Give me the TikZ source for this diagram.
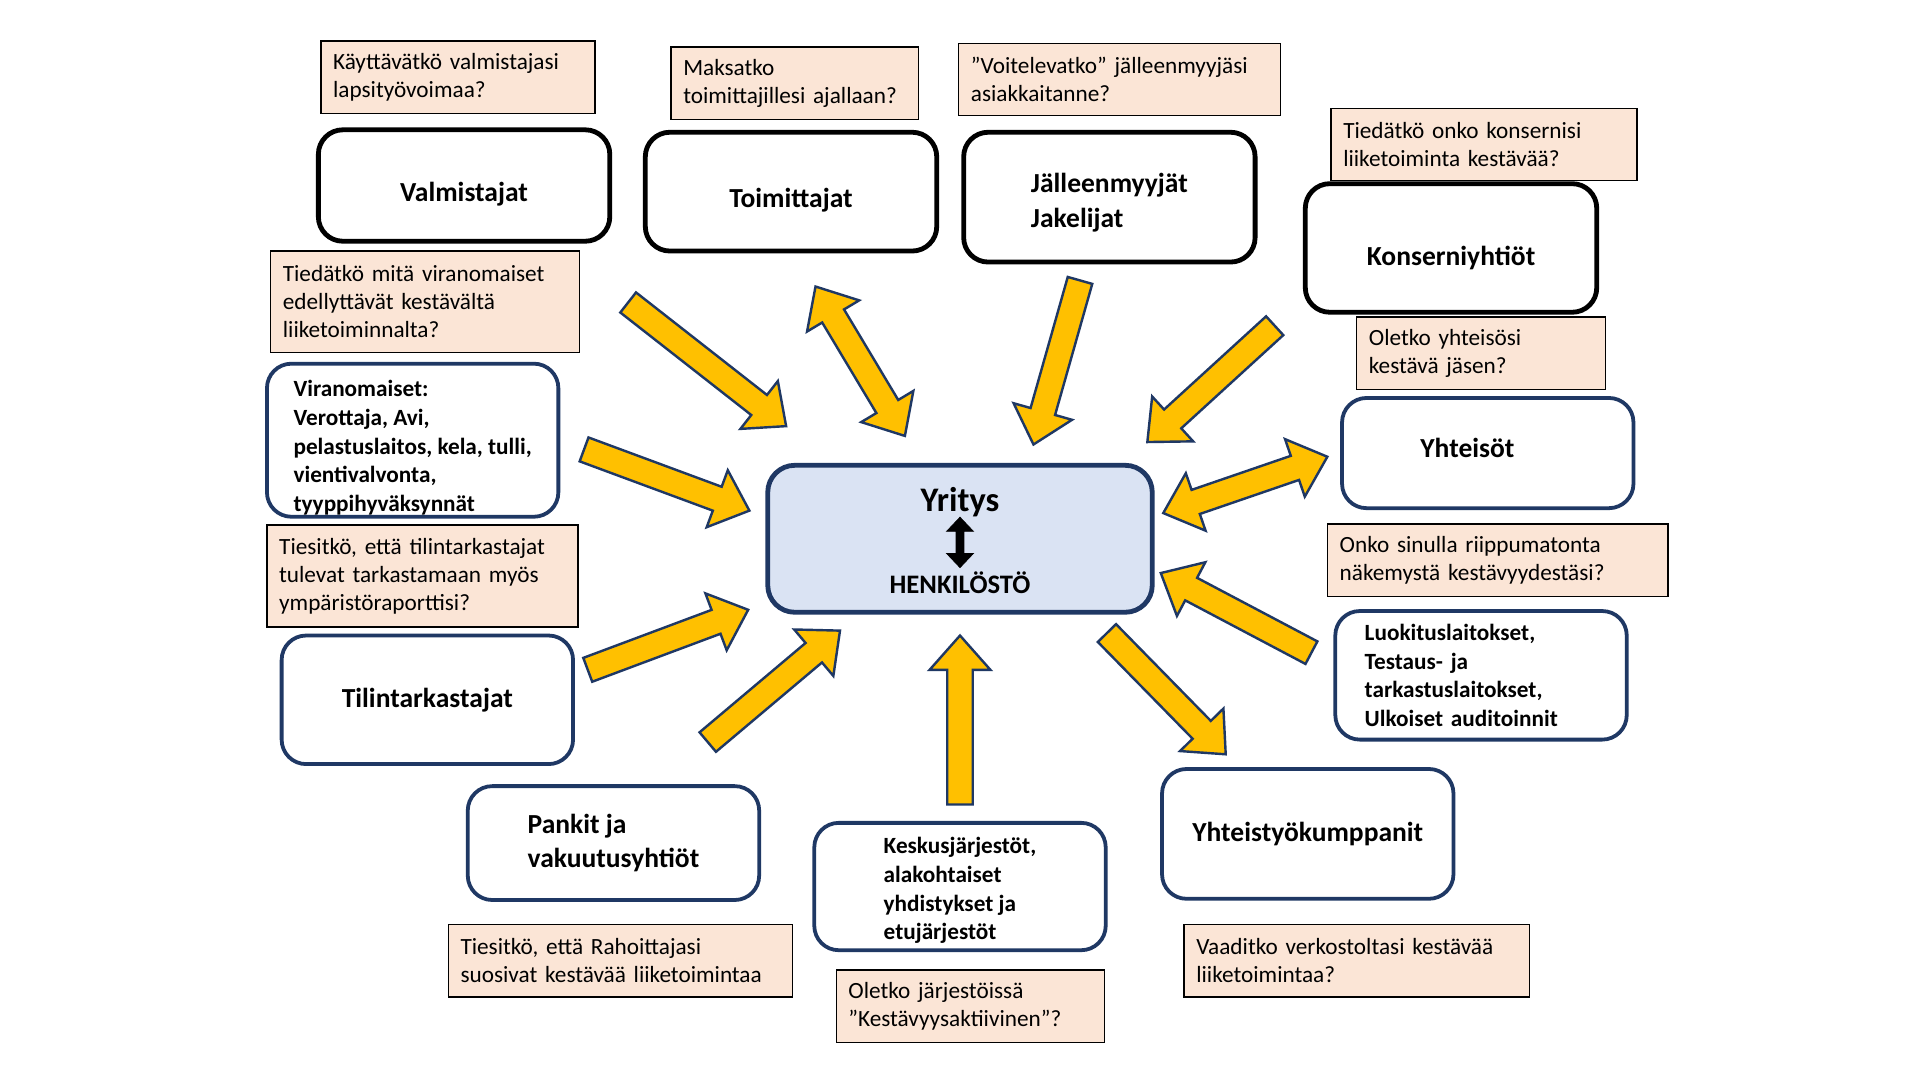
\documentclass[tikz,border=0pt]{standalone}
\usepackage{fontspec}
\setmainfont{Carlito}
\usepackage{tikz}
\usetikzlibrary{positioning}
\usetikzlibrary{calc}
\definecolor{navy}{HTML}{1F3864}
\definecolor{gold}{HTML}{FFC000}
\definecolor{peach}{HTML}{FBE5D6}
\definecolor{paleblue}{HTML}{DAE3F3}
\tikzset{x=0.25mm, y=-0.25mm, font=\fontsize{13.5}{16.3}\selectfont}
\tikzstyle{quest} = [draw, fill=peach, line width=0.8pt, rectangle, align=left, inner xsep=2.5mm, minimum height=14.75mm]
\tikzstyle{party} = [draw, fill=white, line width=2.8pt, rounded corners=5mm, minimum width=59.5mm, align=left, font=\fontsize{16}{20}\selectfont\bfseries]
\tikzstyle{group} = [party, draw=navy, line width=2.2pt]
\tikzstyle{smalltext} = [font=\fontsize{13.5}{16.7}\selectfont\bfseries]
\tikzstyle{barrow} = [draw=navy, fill=gold, line width=1.4pt, line join=miter]
\tikzstyle{karrow} = [draw=black, fill=black, line width=0.4pt, line join=miter]
\newcommand{\shw}{2.6mm}
\newcommand{\hdw}{6.2mm}
\newcommand{\hdl}{7mm}
% block arrow from #2 to #3
\newcommand{\onearrow}[3]{%
  \coordinate (hb) at ($(#3)!\hdl!(#2)$);
  \draw[#1] ($(#2)!\shw!90:(#3)$) -- ($(hb)!\shw!-90:(#2)$) -- ($(hb)!\hdw!-90:(#2)$) -- (#3)
    -- ($(hb)!\hdw!90:(#2)$) -- ($(hb)!\shw!90:(#2)$) -- ($(#2)!\shw!-90:(#3)$) -- cycle;
}
% block arrow with two heads
\newcommand{\twoarrow}[3]{%
  \coordinate (ha) at ($(#2)!\hdl!(#3)$);
  \coordinate (hb) at ($(#3)!\hdl!(#2)$);
  \draw[#1] (#2) -- ($(ha)!\hdw!90:(#3)$) -- ($(ha)!\shw!90:(#3)$) -- ($(hb)!\shw!-90:(#2)$)
    -- ($(hb)!\hdw!-90:(#2)$) -- (#3) -- ($(hb)!\hdw!90:(#2)$) -- ($(hb)!\shw!90:(#2)$)
    -- ($(ha)!\shw!-90:(#3)$) -- ($(ha)!\hdw!-90:(#3)$) -- cycle;
}

\begin{document}
\begin{tikzpicture}
	\path[use as bounding box, fill=white] (0,0) rectangle (1568,882);

	% stakeholders
	\node [party, minimum height=22.75mm, text height=21pt] (valm) at (379,151.5) {Valmistajat};
	\node [party, minimum height=24.25mm, text height=21pt] (toim) at (646,156.5) {Toimittajat};
	\node [party, minimum height=26.5mm, text height=35pt, text depth=0pt] (jall) at (906,161) {Jälleenmyyjät\\Jakelijat};
	\node [party, minimum height=26.25mm, text height=22.5pt] (kons) at (1185,202.5) {Konserniyhtiöt};
	\node [group, smalltext, minimum height=31.25mm, inner ysep=0pt, text height=83pt, text depth=0pt] (viran) at (337,359.5) {Viranomaiset:\\Verottaja, Avi,\\pelastuslaitos, kela, tulli,\\vientivalvonta,\\tyyppihyväksynnät};
	\node [group, minimum height=22.5mm, text width=27.5mm, inner xsep=16mm, text depth=6pt] (yht) at (1215,370) {Yhteisöt};
	\node [group, minimum height=26.25mm] (tilin) at (349,571.5) {Tilintarkastajat};
	\node [group, smalltext, minimum height=26.25mm, text width=47.5mm, inner xsep=6mm] (luok) at (1209.5,551.5) {Luokituslaitokset,\\Testaus- ja\\tarkastuslaitokset,\\Ulkoiset auditoinnit};
	\node [group, minimum height=23.25mm] (pank) at (501,688.5) {Pankit ja\\vakuutusyhtiöt};
	\node [group, smalltext, minimum height=26mm, text height=62pt, text depth=0pt] (kesk) at (784,724) {Keskusjärjestöt,\\alakohtaiset\\yhdistykset ja\\etujärjestöt};
	\node [group, minimum height=26.5mm] (ytk) at (1068,681) {Yhteistyökumppanit};

	% questions
	\node [quest, text width=51mm, above=2.75mm of valm, xshift=-1.25mm] (q_valm) {Käyttävätkö valmistajasi\\lapsityövoimaa?};
	\node [quest, text width=45.5mm, above=2mm of toim, xshift=0.75mm] (q_toim) {Maksatko\\toimittajillesi ajallaan?};
	\node [quest, text width=60.75mm, above=2.75mm of jall, xshift=2.1mm] (q_jall) {”Voitelevatko” jälleenmyyjäsi\\asiakkaitanne?};
	\node [quest, text width=57.5mm, above=0mm of kons, xshift=6.75mm] (q_kons) {Tiedätkö onko konsernisi\\liiketoiminta kestävää?};
	\node [quest, text width=58mm, minimum height=20.75mm, above=1.75mm of viran, xshift=2.5mm] (q_viran) {Tiedätkö mitä viranomaiset\\edellyttävät kestävältä\\liiketoiminnalta?};
	\node [quest, text width=45.75mm, above=1.25mm of yht, xshift=-1.4mm] (q_yht) {Oletko yhteisösi\\kestävä jäsen?};
	\node [quest, text width=58.5mm, minimum height=20.75mm, above=1.25mm of tilin, xshift=-1mm] (q_tilin) {Tiesitkö, että tilintarkastajat\\tulevat tarkastamaan myös\\ympäristöraporttisi?};
	\node [quest, text width=64.5mm, above=2.5mm of luok, xshift=3.4mm] (q_luok) {Onko sinulla riippumatonta\\näkemystä kestävyydestäsi?};
	\node [quest, text width=65.25mm, below=4.5mm of pank, xshift=1.4mm] (q_pank) {Tiesitkö, että Rahoittajasi\\suosivat kestävää liiketoimintaa};
	\node [quest, text width=49.75mm, below=3.5mm of kesk, xshift=2.1mm] (q_kesk) {Oletko järjestöissä\\”Kestävyysaktiivinen”?};
	\node [quest, text width=65.5mm, below=4.75mm of ytk, xshift=10mm] (q_ytk) {Vaaditko verkostoltasi kestävää\\liiketoimintaa?};

	% company
	\node [draw=navy, fill=paleblue, line width=2.8pt, rounded corners=5.5mm, minimum width=78.5mm, minimum height=30mm] (yritys) at (784,440) {};
	\node [font=\fontsize{20}{24}\selectfont\bfseries, inner sep=0pt] (yr_name) at (784,410) {Yritys};
	\node [font=\fontsize{15.5}{18}\selectfont\bfseries, inner sep=0pt, outer sep=2.5pt] (henk) at (784,476) {HENKILÖSTÖ};
	{\renewcommand{\shw}{0.8mm}\renewcommand{\hdw}{2.75mm}\renewcommand{\hdl}{2.9mm}
	 \twoarrow{karrow}{yr_name.south}{henk.north}}

	% arrows
	\coordinate (valm_a) at (513,247);  \coordinate (valm_b) at (642,348);
	\coordinate (toim_a) at (666,234);  \coordinate (toim_b) at (739,356);
	\coordinate (jall_a) at (882,229);  \coordinate (jall_b) at (844,363);
	\coordinate (kons_a) at (1041,266); \coordinate (kons_b) at (937,361);
	\coordinate (yht_a) at (950,419);   \coordinate (yht_b) at (1084,373);
	\coordinate (viran_a) at (477,367); \coordinate (viran_b) at (612,417);
	\coordinate (tilin_a) at (480,547); \coordinate (tilin_b) at (611,498);
	\coordinate (pank_a) at (578,606);  \coordinate (pank_b) at (686,515);
	\coordinate (kesk_a) at (784,657);  \coordinate (kesk_b) at (784,519);
	\coordinate (ytk_a) at (904,517);   \coordinate (ytk_b) at (1001,616);
	\coordinate (luok_a) at (1071,533); \coordinate (luok_b) at (948,468);

	\foreach \n in {valm,jall,kons,viran,tilin,pank,kesk,ytk,luok}
		{\onearrow{barrow}{\n_a}{\n_b}}
	\twoarrow{barrow}{toim_a}{toim_b}
	\twoarrow{barrow}{yht_a}{yht_b}
\end{tikzpicture}
\end{document}
